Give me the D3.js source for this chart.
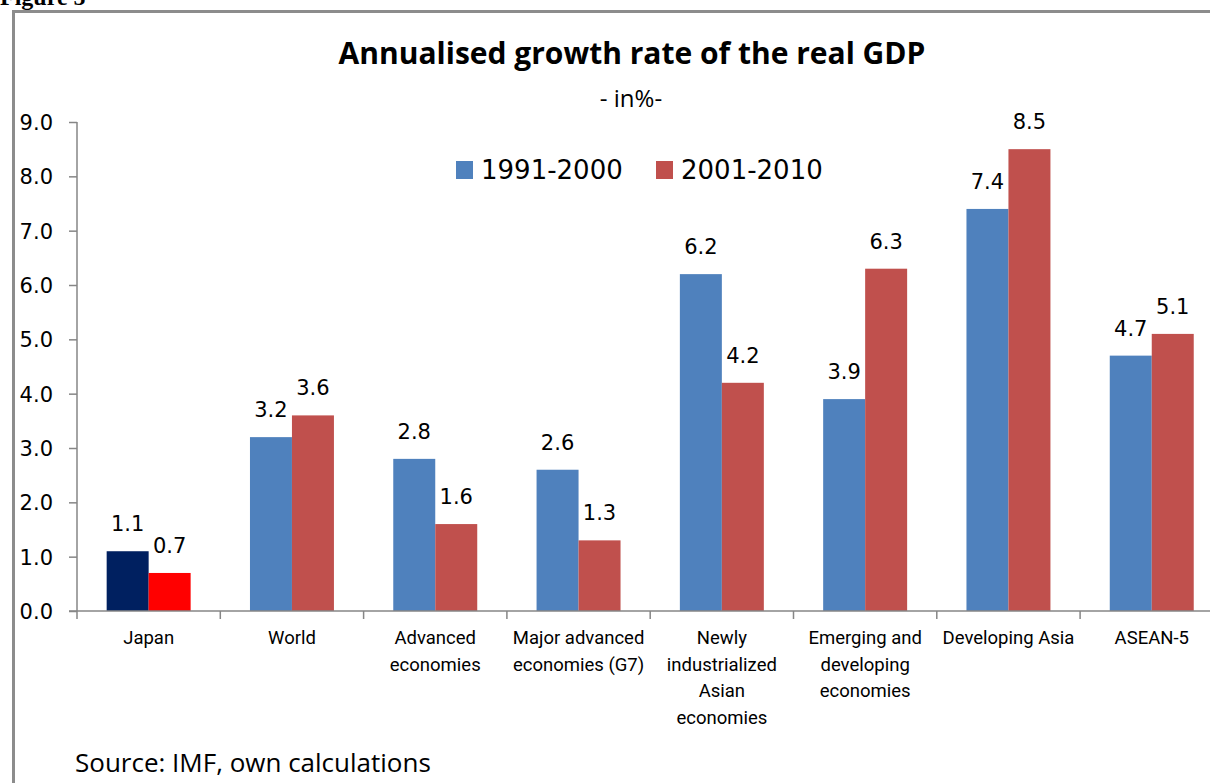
<!DOCTYPE html>
<html>
<head>
<meta charset="utf-8">
<script src="https://cdn.jsdelivr.net/npm/d3@7"></script>
<style>
  body { margin: 0; background: #fff; }
  svg { display: block; }
</style>
</head>
<body>
<div id="canvas"></div>
<script>
// chart data
const categories = [
  ["Japan"],
  ["World"],
  ["Advanced", "economies"],
  ["Major advanced", "economies (G7)"],
  ["Newly", "industrialized", "Asian", "economies"],
  ["Emerging and", "developing", "economies"],
  ["Developing Asia"],
  ["ASEAN-5"]
];
const seriesNames = ["1991-2000", "2001-2010"];
const values1991 = [1.1, 3.2, 2.8, 2.6, 6.2, 3.9, 7.4, 4.7];
const values2001 = [0.7, 3.6, 1.6, 1.3, 4.2, 6.3, 8.5, 5.1];
const yTicks = [0, 1, 2, 3, 4, 5, 6, 7, 8, 9];

const W = 1210, H = 783;
const colors = ["#4F81BD", "#C0504D"];
const japanColors = ["#002060", "#FF0000"];
const axisColor = "#868686";

let svg = d3.select("#canvas").append("svg")
  .attr("width", W)
  .attr("height", H);

svg.append("rect").attr("width", W).attr("height", H).attr("fill", "#fff");

// caption, cut off at the top of the page as in the scan
svg.append("text")
  .attr("x", 0).attr("y", 5)
  .style("font-family", "'Liberation Serif', serif")
  .style("font-weight", "bold")
  .style("font-size", "24px")
  .text("Figure 5");

// frame (runs off right and bottom)
svg.append("path")
  .attr("d", "M13.5," + (H + 5) + " L13.5,11.5 L" + (W + 5) + ",11.5")
  .attr("fill", "none")
  .attr("stroke", "#8c8c8c")
  .attr("stroke-width", 3);

// title
svg.append("text")
  .attr("x", 632).attr("y", 64)
  .attr("text-anchor", "middle")
  .style("font-family", "'Open Sans', sans-serif")
  .style("font-weight", "bold")
  .style("font-size", "30px")
  .text("Annualised growth rate of the real GDP");

svg.append("text")
  .attr("x", 631).attr("y", 107)
  .attr("text-anchor", "middle")
  .style("font-family", "'Open Sans', sans-serif")
  .style("font-size", "24px")
  .text("- in%-");

let data = categories.map(function (c, i) {
  return { cat: i, vals: [values1991[i], values2001[i]] };
});

let x0 = d3.scaleBand()
  .domain(d3.range(categories.length))
  .range([77, 77 + 8 * 143.3])
  .paddingInner(0.414)
  .paddingOuter(0.207);

let x1 = d3.scaleBand()
  .domain([0, 1])
  .range([0, x0.bandwidth()]);

let y = d3.scaleLinear()
  .domain([0, 9])
  .range([611, 122]);

// y axis
let yAxis = svg.append("g").attr("transform", "translate(77,0)")
  .call(d3.axisLeft(y).tickValues(yTicks).tickFormat(d3.format(".1f")).tickSize(8).tickPadding(16));
yAxis.select(".domain").attr("stroke", axisColor).attr("stroke-width", 1.5).attr("d", "M0,122V611");
yAxis.selectAll(".tick line").attr("stroke", axisColor).attr("stroke-width", 1.5);
yAxis.selectAll(".tick text")
  .style("font-family", "'DejaVu Sans', sans-serif")
  .style("font-size", "21px")
  .attr("fill", "#000")
  .attr("dy", "0.36em");

// bars
let groups = svg.append("g").selectAll("g")
  .data(data)
  .join("g")
  .attr("transform", function (d) { return "translate(" + x0(d.cat) + ",0)"; });

groups.selectAll("rect")
  .data(function (d) { return d.vals.map(function (v, s) { return { v: v, s: s, cat: d.cat }; }); })
  .join("rect")
  .attr("x", function (d) { return x1(d.s); })
  .attr("width", x1.bandwidth())
  .attr("y", function (d) { return y(d.v); })
  .attr("height", function (d) { return y(0) - y(d.v); })
  .attr("fill", function (d) { return d.cat === 0 ? japanColors[d.s] : colors[d.s]; });

groups.selectAll("text")
  .data(function (d) { return d.vals.map(function (v, s) { return { v: v, s: s }; }); })
  .join("text")
  .attr("x", function (d) { return x1(d.s) + x1.bandwidth() / 2; })
  .attr("y", function (d) { return y(d.v) - 20; })
  .attr("text-anchor", "middle")
  .style("font-family", "'DejaVu Sans', sans-serif")
  .style("font-size", "21px")
  .text(function (d) { return d3.format(".1f")(d.v); });

// x axis
let xAxisG = svg.append("g");
xAxisG.append("line")
  .attr("x1", 69).attr("x2", W)
  .attr("y1", 611).attr("y2", 611)
  .attr("stroke", axisColor).attr("stroke-width", 1.5);
xAxisG.selectAll("line.tk")
  .data(d3.range(categories.length + 1))
  .join("line")
  .attr("class", "tk")
  .attr("x1", function (i) { return 77 + i * x0.step(); })
  .attr("x2", function (i) { return 77 + i * x0.step(); })
  .attr("y1", 611).attr("y2", 619)
  .attr("stroke", axisColor).attr("stroke-width", 1.5);

let labels = xAxisG.selectAll("text.cat")
  .data(data)
  .join("text")
  .attr("class", "cat")
  .attr("text-anchor", "middle")
  .style("font-family", "Roboto, sans-serif")
  .style("font-size", "18.5px")
  .attr("transform", function (d) { return "translate(" + (x0(d.cat) + x0.bandwidth() / 2) + ",644)"; });

labels.selectAll("tspan")
  .data(function (d) { return categories[d.cat]; })
  .join("tspan")
  .attr("x", 0)
  .attr("y", function (t, i) { return i * 26.7; })
  .text(function (t) { return t; });

// legend
let legend = svg.append("g");
let legendX = [456, 656];
seriesNames.forEach(function (name, i) {
  legend.append("rect")
    .attr("x", legendX[i]).attr("y", 161)
    .attr("width", 17).attr("height", 18)
    .attr("fill", colors[i]);
  legend.append("text")
    .attr("x", legendX[i] + 25).attr("y", 179)
    .style("font-family", "'DejaVu Sans', sans-serif")
    .style("font-size", "26px")
    .text(name);
});

// source
svg.append("text")
  .attr("x", 75).attr("y", 772)
  .style("font-family", "'Open Sans', sans-serif")
  .style("font-size", "26px")
  .text("Source: IMF, own calculations");
</script>
</body>
</html>
